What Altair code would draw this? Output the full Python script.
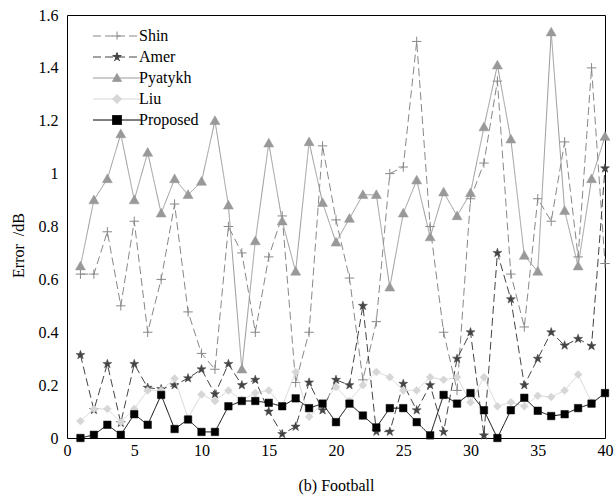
import altair as alt
import pandas as pd

# ---- data ----
x_vals = list(range(1, 41))
names = ["Shin", "Amer", "Pyatykh", "Liu", "Proposed"]
shin = [0.62, 0.62, 0.78, 0.50, 0.82, 0.40, 0.60, 0.885, 0.477, 0.32,
        0.26, 0.80, 0.70, 0.40, 0.685, 0.84, 0.21, 0.40, 1.105, 0.825,
        0.605, 0.22, 0.44, 1.00, 1.025, 1.50, 0.80, 0.40, 0.18, 0.905,
        1.04, 1.35, 0.62, 0.42, 0.905, 0.82, 1.12, 0.685, 1.40, 0.66]
amer = [0.314, 0.106, 0.28, 0.057, 0.28, 0.19, 0.185, 0.20, 0.226, 0.26,
        0.166, 0.28, 0.20, 0.22, 0.10, 0.015, 0.043, 0.21, 0.105, 0.22,
        0.20, 0.50, 0.024, 0.024, 0.205, 0.105, 0.20, 0.023, 0.30, 0.40,
        0.01, 0.70, 0.525, 0.20, 0.30, 0.40, 0.35, 0.375, 0.348, 1.02]
pyatykh = [0.65, 0.90, 0.98, 1.15, 0.90, 1.08, 0.85, 0.98, 0.92, 0.97,
           1.20, 0.88, 0.26, 0.745, 1.115, 0.82, 0.63, 1.12, 0.89, 0.74,
           0.83, 0.92, 0.92, 0.57, 0.85, 0.975, 0.76, 0.93, 0.84, 0.927,
           1.176, 1.41, 1.13, 0.69, 0.63, 1.535, 0.86, 0.65, 0.98, 1.14]
liu = [0.064, 0.11, 0.11, 0.06, 0.11, 0.18, 0.18, 0.225, 0.075, 0.165,
       0.14, 0.18, 0.143, 0.17, 0.18, 0.12, 0.25, 0.08, 0.13, 0.193,
       0.14, 0.20, 0.25, 0.23, 0.18, 0.18, 0.23, 0.22, 0.23, 0.135,
       0.23, 0.12, 0.135, 0.12, 0.16, 0.155, 0.18, 0.24, 0.135, 0.17]
proposed = [0.0, 0.012, 0.05, 0.012, 0.09, 0.05, 0.163, 0.034, 0.07, 0.023,
            0.023, 0.12, 0.14, 0.14, 0.133, 0.12, 0.15, 0.113, 0.13, 0.06,
            0.13, 0.085, 0.04, 0.113, 0.113, 0.06, 0.01, 0.163, 0.13, 0.17,
            0.105, 0.0, 0.105, 0.152, 0.103, 0.083, 0.09, 0.113, 0.13, 0.17]
x_ticks = list(range(0, 41, 5))
y_ticks = [0, 0.2, 0.4, 0.6, 0.8, 1.0, 1.2, 1.4, 1.6]

series_vals = [shin, amer, pyatykh, liu, proposed]
rows = []
for nm, vals in zip(names, series_vals):
    for xv, yv in zip(x_vals, vals):
        rows.append({"series": nm, "x": xv, "y": yv})
df = pd.DataFrame(rows)

# ---- styles ----
FONT = "Liberation Serif"
W, H = 538, 423
colors = ["#888888", "#444444", "#999999", "#d6d6d6", "#000000"]
dashes = [[8, 4], [8, 4], [1, 0], [1, 0], [1, 0]]

STAR = "M0,-1L0.235,-0.324L0.951,-0.309L0.38,0.124L0.588,0.809L0,0.4L-0.588,0.809L-0.38,0.124L-0.951,-0.309L-0.235,-0.324Z"
PLUS = "M-1,0L1,0M0,-1L0,1"
TRI = "M0,-1L1,0.75L-1,0.75Z"
DIAM = "M0,-1L1,0L0,1L-1,0Z"
SQR = "M-1,-1L1,-1L1,1L-1,1Z"
marker_paths = [PLUS, STAR, TRI, DIAM, SQR]
marker_sizes = [90, 90, 100, 64, 56]
marker_filled = [False, True, True, True, True]


def scaled(path, f):
    out = []
    num = ""
    for ch in path:
        if ch.isdigit() or ch in ".-":
            if ch == "-" and num:
                out.append(f"{float(num) * f:.3f}")
                num = ""
            num += ch
        else:
            if num:
                out.append(f"{float(num) * f:.3f}")
                num = ""
            out.append(ch)
    if num:
        out.append(f"{float(num) * f:.3f}")
    return "".join(out)


LINE = "M-4.8,0L4.8,0"
legend_paths = [LINE + scaled(p, 0.9) for p in marker_paths]

xs = alt.Scale(domain=[0, 40], nice=False, zero=False)
ys = alt.Scale(domain=[0, 1.6], nice=False, zero=False)

ax_x_main = alt.Axis(values=x_ticks, orient="bottom", ticks=False, domain=False,
                     grid=False, labelFont=FONT, labelFontSize=16, labelColor="black",
                     labelPadding=4, labelFlush=False, title="(b) Football", titleFont=FONT,
                     titleFontSize=16, titleFontWeight="normal", titleColor="black",
                     titlePadding=19)
ax_y_main = alt.Axis(values=y_ticks, orient="left", ticks=False, domain=False,
                     grid=False, format=".1~f", labelFont=FONT, labelFontSize=16,
                     labelColor="black", labelPadding=9, labelFlush=False,
                     title="Error\u00a0 /dB", titleFont=FONT, titleFontSize=16,
                     titleFontWeight="normal", titleColor="black", titleX=-41, titleY=230)

base = alt.Chart(df)
layers = []
for i, nm in enumerate(names):
    if i == 0:
        ax, ay = ax_x_main, ax_y_main
    else:
        ax, ay = None, None
    xenc = alt.X("x:Q", scale=xs, axis=ax)
    yenc = alt.Y("y:Q", scale=ys, axis=ay)
    sub = base.transform_filter(alt.datum.series == nm)
    line = sub.mark_line(color=colors[i], strokeWidth=1, strokeDash=dashes[i]).encode(x=xenc, y=yenc)
    if marker_filled[i]:
        pt = sub.mark_point(shape=marker_paths[i], size=marker_sizes[i], filled=True,
                            fill=colors[i], stroke=colors[i], strokeWidth=0.5, opacity=1).encode(
            x=alt.X("x:Q", scale=xs, axis=None), y=alt.Y("y:Q", scale=ys, axis=None))
    else:
        pt = sub.mark_point(shape=marker_paths[i], size=marker_sizes[i], filled=False,
                            stroke=colors[i], strokeWidth=1, opacity=1).encode(
            x=alt.X("x:Q", scale=xs, axis=None), y=alt.Y("y:Q", scale=ys, axis=None))
    layers += [line, pt]

leg = alt.Legend(orient="none", legendX=23, legendY=13, title=None, labelFont=FONT,
                 labelFontSize=16, labelColor="black", symbolSize=100, symbolStrokeWidth=1,
                 symbolOffset=19, labelOffset=14, rowPadding=5, padding=0, labelLimit=300)
legend_layer = base.transform_filter("false").mark_point(filled=True, opacity=1, strokeWidth=1).encode(
    x=alt.X("x:Q", scale=xs, axis=None),
    y=alt.Y("y:Q", scale=ys, axis=None),
    color=alt.Color("series:N", scale=alt.Scale(domain=names, range=colors), legend=leg),
    stroke=alt.Stroke("series:N", scale=alt.Scale(domain=names, range=colors), legend=leg),
    shape=alt.Shape("series:N", scale=alt.Scale(domain=names, range=legend_paths), legend=leg),
    strokeDash=alt.StrokeDash("series:N", scale=alt.Scale(domain=names, range=dashes), legend=leg),
)

chart = alt.layer(*layers, legend_layer).resolve_axis(x="independent", y="independent").properties(
    width=W, height=H,
    autosize=alt.AutoSizeParams(type="none"),
    padding={"left": 67, "top": 15, "right": 10, "bottom": 59},
    background="white",
).configure_view(stroke="black", strokeWidth=1)

chart.save("out.html", embed_options={"renderer": "svg", "actions": False})
